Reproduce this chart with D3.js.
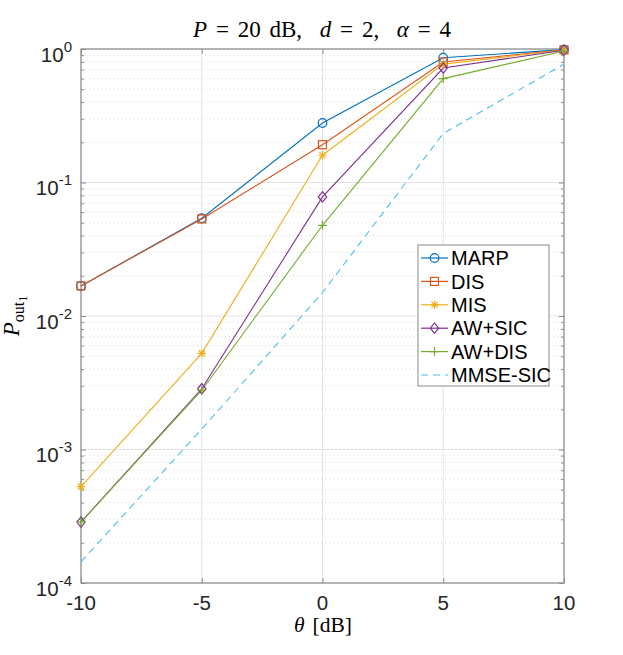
<!DOCTYPE html>
<html><head><meta charset="utf-8">
<script src="https://cdn.jsdelivr.net/npm/d3@7"></script>
<style>
html,body{margin:0;padding:0;background:#fff;}
svg{display:block;}
text{white-space:pre;}
</style></head>
<body>
<svg id="chart" width="623" height="655"></svg>
<script>
// ---- data ----
const theta = [-10, -5, 0, 5, 10];
const seriesNames = ["MARP", "DIS", "MIS", "AW+SIC", "AW+DIS", "MMSE-SIC"];
const marp    = [0.0168, 0.0540, 0.279, 0.861, 0.990];
const dis     = [0.0168, 0.0533, 0.192, 0.800, 0.985];
const mis     = [0.000527, 0.00525, 0.160, 0.770, 0.983];
const awsic   = [0.000286, 0.00285, 0.078, 0.720, 0.980];
const awdis   = [0.000286, 0.00278, 0.0478, 0.600, 0.965];
const mmsesic = [0.000144, 0.00142, 0.0150, 0.233, 0.770];
const xTicks = [-10, -5, 0, 5, 10];
const yTickExps = [0, -1, -2, -3, -4];

// ---- styles ----
const colors = ["#0072BD", "#D95319", "#EDB120", "#7E2F8E", "#77AC30", "#4DBEEE"];
const markers = ["circle", "square", "star", "diamond", "plus", "none"];
const dashes = [null, null, null, null, null, "7,5"];
const values = [marp, dis, mis, awsic, awdis, mmsesic];

const svg = d3.select("#chart");
const L = 81, R = 564, T = 49, B = 583;
const x = d3.scaleLinear().domain([-10, 10]).range([L, R]);
const y = d3.scaleLog().domain([1e-4, 1]).range([B, T]);

const axisColor = "#8c8c8c";
const sans = "'Liberation Sans', Arial, sans-serif";
const serif = "'Liberation Serif', 'Times New Roman', serif";

// minor grid (dotted)
const minorVals = [];
for (let e = -4; e < 0; e++) for (let m = 2; m <= 9; m++) minorVals.push(m * Math.pow(10, e));
svg.append("g").selectAll("line").data(minorVals).join("line")
  .attr("x1", L).attr("x2", R)
  .attr("y1", d => y(d)).attr("y2", d => y(d))
  .attr("stroke", "#d4d4d4").attr("stroke-width", 1).attr("stroke-dasharray", "1,3");

// major grid
svg.append("g").selectAll("line").data(yTickExps.map(e => Math.pow(10, e))).join("line")
  .attr("x1", L).attr("x2", R)
  .attr("y1", d => y(d)).attr("y2", d => y(d))
  .attr("stroke", "#e3e3e3").attr("stroke-width", 1);
svg.append("g").selectAll("line").data(xTicks).join("line")
  .attr("x1", d => x(d)).attr("x2", d => x(d))
  .attr("y1", T).attr("y2", B)
  .attr("stroke", "#e3e3e3").attr("stroke-width", 1);

// axes via d3 axis (inward ticks)
const xAxisB = d3.axisBottom(x).tickValues(xTicks).tickSize(-5).tickFormat("");
const xAxisT = d3.axisTop(x).tickValues(xTicks).tickSize(-5).tickFormat("");
const yAxisL = d3.axisLeft(y).tickValues(yTickExps.map(e => Math.pow(10, e))).tickSize(-5).tickFormat("");
const yAxisR = d3.axisRight(y).tickValues(yTickExps.map(e => Math.pow(10, e))).tickSize(-5).tickFormat("");
const yMinL = d3.axisLeft(y).tickValues(minorVals).tickSize(-3).tickFormat("");
const yMinR = d3.axisRight(y).tickValues(minorVals).tickSize(-3).tickFormat("");
function styleAxis(g){ g.selectAll("path,line").attr("stroke", axisColor).attr("stroke-width", 1); g.select(".domain").remove(); }
svg.append("g").attr("transform", `translate(0,${B})`).call(xAxisB).call(styleAxis);
svg.append("g").attr("transform", `translate(0,${T})`).call(xAxisT).call(styleAxis);
svg.append("g").attr("transform", `translate(${L},0)`).call(yAxisL).call(styleAxis);
svg.append("g").attr("transform", `translate(${R},0)`).call(yAxisR).call(styleAxis);
svg.append("g").attr("transform", `translate(${L},0)`).call(yMinL).call(styleAxis);
svg.append("g").attr("transform", `translate(${R},0)`).call(yMinR).call(styleAxis);
svg.append("rect").attr("x", L).attr("y", T).attr("width", R - L).attr("height", B - T)
  .attr("fill", "none").attr("stroke", axisColor).attr("stroke-width", 1.2);

// x tick labels
svg.append("g").selectAll("text").data(xTicks).join("text")
  .attr("x", d => x(d)).attr("y", 610)
  .attr("text-anchor", "middle").attr("font-family", sans).attr("font-size", 20.5).attr("fill", "#262626")
  .text(d => d);

// y tick labels 10^e
const yl = svg.append("g").selectAll("text").data(yTickExps).join("text")
  .attr("x", 72).attr("y", d => y(Math.pow(10, d)) + 12.5)
  .attr("text-anchor", "end").attr("font-family", sans).attr("font-size", 20.5).attr("fill", "#262626");
yl.append("tspan").text("10");
yl.append("tspan").attr("dy", -10).attr("font-size", 15).text(d => d);

// helper: fit text width by word spacing
function fitWidth(sel, width) {
  const n = sel.text().split(" ").length - 1;
  const len = sel.node().getComputedTextLength();
  if (n > 0) sel.attr("word-spacing", (width - len) / n);
}

// title
const title = svg.append("text").attr("x", 193).attr("y", 37)
  .attr("font-family", serif).attr("font-size", 23).attr("fill", "#000");
title.append("tspan").attr("font-style", "italic").text("P");
title.append("tspan").text(" = 20 dB,  ");
title.append("tspan").attr("font-style", "italic").text("d");
title.append("tspan").text(" = 2,  ");
title.append("tspan").attr("font-style", "italic").text("α");
title.append("tspan").text(" = 4");
fitWidth(title, 258);

// x label
const xl = svg.append("text").attr("x", 294).attr("y", 632)
  .attr("font-family", serif).attr("font-size", 21.5).attr("fill", "#000");
xl.append("tspan").attr("font-style", "italic").text("θ");
xl.append("tspan").text("  [dB]");
fitWidth(xl, 58);

// y label
const ylab = svg.append("text").attr("transform", "translate(19,316) rotate(-90)").attr("text-anchor", "middle")
  .attr("font-family", serif).attr("font-size", 23).attr("fill", "#000");
ylab.append("tspan").attr("font-style", "italic").text("P");
ylab.append("tspan").attr("dy", 5).attr("font-size", 16).text("out");
ylab.append("tspan").attr("dy", 3).attr("font-size", 12).text("1");

// lines
const line = d3.line().x((d, i) => x(theta[i])).y(d => y(d));
const plotG = svg.append("g");
values.forEach((vals, k) => {
  plotG.append("path").datum(vals).attr("d", line)
    .attr("fill", "none").attr("stroke", colors[k]).attr("stroke-width", 1.1)
    .attr("stroke-dasharray", dashes[k]);
});

function drawMarker(g, type, cx, cy, color) {
  if (type === "circle") {
    g.append("circle").attr("cx", cx).attr("cy", cy).attr("r", 4.3)
      .attr("fill", "none").attr("stroke", color).attr("stroke-width", 1.2);
  } else if (type === "square") {
    g.append("rect").attr("x", cx - 4).attr("y", cy - 4).attr("width", 8).attr("height", 8)
      .attr("fill", "none").attr("stroke", color).attr("stroke-width", 1.2);
  } else if (type === "diamond") {
    const s = 5.2;
    g.append("path").attr("d", `M${cx},${cy - s}L${cx + s * 0.8},${cy}L${cx},${cy + s}L${cx - s * 0.8},${cy}Z`)
      .attr("fill", "none").attr("stroke", color).attr("stroke-width", 1.2);
  } else if (type === "plus") {
    const s = 4.5;
    g.append("path").attr("d", `M${cx - s},${cy}H${cx + s}M${cx},${cy - s}V${cy + s}`)
      .attr("stroke", color).attr("stroke-width", 1.2);
  } else if (type === "star") {
    const s = 4.3, d = s * 0.72;
    g.append("path").attr("d", `M${cx - s},${cy}H${cx + s}M${cx},${cy - s}V${cy + s}M${cx - d},${cy - d}L${cx + d},${cy + d}M${cx - d},${cy + d}L${cx + d},${cy - d}`)
      .attr("stroke", color).attr("stroke-width", 1.2);
  }
}
values.forEach((vals, k) => {
  vals.forEach((v, i) => drawMarker(plotG, markers[k], x(theta[i]), y(v), colors[k]));
});

// legend
const lg = svg.append("g");
lg.append("rect").attr("x", 418).attr("y", 245).attr("width", 131).attr("height", 141)
  .attr("fill", "#fff").attr("stroke", "#8c8c8c").attr("stroke-width", 1);
seriesNames.forEach((name, k) => {
  const ry = 258 + k * 23.4;
  lg.append("line").attr("x1", 421).attr("x2", 448).attr("y1", ry).attr("y2", ry)
    .attr("stroke", colors[k]).attr("stroke-width", 1.2).attr("stroke-dasharray", dashes[k]);
  drawMarker(lg, markers[k], 434.5, ry, colors[k]);
  lg.append("text").attr("x", 451).attr("y", ry + 7.2)
    .attr("font-family", sans).attr("font-size", 20).attr("fill", "#000").text(name);
});
</script>
</body></html>
